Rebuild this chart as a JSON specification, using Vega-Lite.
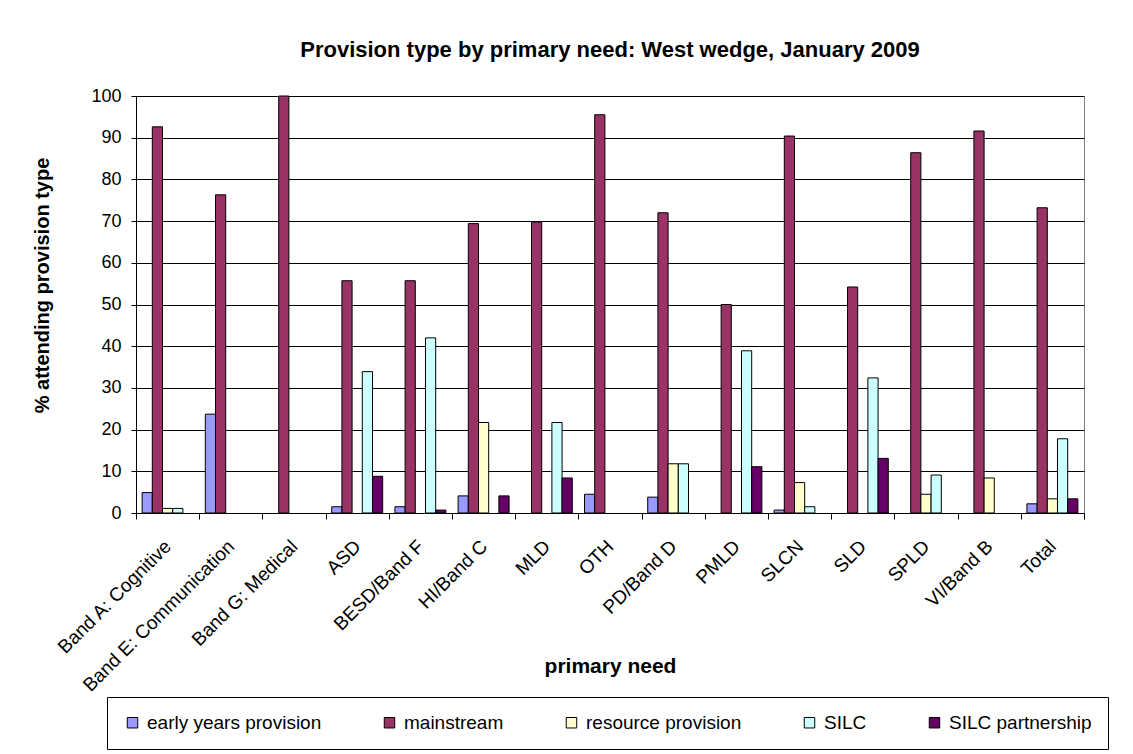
{
  "$schema": "https://vega.github.io/schema/vega-lite/v6.json",
  "width": 948,
  "height": 417,
  "autosize": {"type": "none"},
  "padding": {"left": 136, "top": 96, "right": 49, "bottom": 241},
  "background": "white",
  "title": {
    "text": "Provision type by primary need: West wedge, January 2009",
    "fontSize": 22,
    "fontWeight": "bold",
    "font": "Liberation Sans, Arial, sans-serif",
    "color": "black",
    "anchor": "middle",
    "offset": 25
  },
  "data": {
    "values": [
      {"need": "Band A: Cognitive", "type": "early years provision", "pct": 4.9},
      {"need": "Band A: Cognitive", "type": "mainstream", "pct": 92.6},
      {"need": "Band A: Cognitive", "type": "resource provision", "pct": 1.1},
      {"need": "Band A: Cognitive", "type": "SILC", "pct": 1.1},
      {"need": "Band E: Communication", "type": "early years provision", "pct": 23.7},
      {"need": "Band E: Communication", "type": "mainstream", "pct": 76.3},
      {"need": "Band G: Medical", "type": "mainstream", "pct": 100},
      {"need": "ASD", "type": "early years provision", "pct": 1.5},
      {"need": "ASD", "type": "mainstream", "pct": 55.7},
      {"need": "ASD", "type": "SILC", "pct": 33.9},
      {"need": "ASD", "type": "SILC partnership", "pct": 8.8},
      {"need": "BESD/Band F", "type": "early years provision", "pct": 1.5},
      {"need": "BESD/Band F", "type": "mainstream", "pct": 55.7},
      {"need": "BESD/Band F", "type": "SILC", "pct": 42.0},
      {"need": "BESD/Band F", "type": "SILC partnership", "pct": 0.7},
      {"need": "HI/Band C", "type": "early years provision", "pct": 4.1},
      {"need": "HI/Band C", "type": "mainstream", "pct": 69.4},
      {"need": "HI/Band C", "type": "resource provision", "pct": 21.7},
      {"need": "HI/Band C", "type": "SILC partnership", "pct": 4.1},
      {"need": "MLD", "type": "mainstream", "pct": 69.8},
      {"need": "MLD", "type": "SILC", "pct": 21.7},
      {"need": "MLD", "type": "SILC partnership", "pct": 8.4},
      {"need": "OTH", "type": "early years provision", "pct": 4.5},
      {"need": "OTH", "type": "mainstream", "pct": 95.5},
      {"need": "PD/Band D", "type": "early years provision", "pct": 3.8},
      {"need": "PD/Band D", "type": "mainstream", "pct": 72.0},
      {"need": "PD/Band D", "type": "resource provision", "pct": 11.8},
      {"need": "PD/Band D", "type": "SILC", "pct": 11.8},
      {"need": "PMLD", "type": "mainstream", "pct": 50.0},
      {"need": "PMLD", "type": "SILC", "pct": 38.9},
      {"need": "PMLD", "type": "SILC partnership", "pct": 11.1},
      {"need": "SLCN", "type": "early years provision", "pct": 0.7},
      {"need": "SLCN", "type": "mainstream", "pct": 90.4},
      {"need": "SLCN", "type": "resource provision", "pct": 7.3},
      {"need": "SLCN", "type": "SILC", "pct": 1.5},
      {"need": "SLD", "type": "mainstream", "pct": 54.2},
      {"need": "SLD", "type": "SILC", "pct": 32.4},
      {"need": "SLD", "type": "SILC partnership", "pct": 13.1},
      {"need": "SPLD", "type": "mainstream", "pct": 86.4},
      {"need": "SPLD", "type": "resource provision", "pct": 4.5},
      {"need": "SPLD", "type": "SILC", "pct": 9.1},
      {"need": "VI/Band B", "type": "mainstream", "pct": 91.6},
      {"need": "VI/Band B", "type": "resource provision", "pct": 8.4},
      {"need": "Total", "type": "early years provision", "pct": 2.2},
      {"need": "Total", "type": "mainstream", "pct": 73.2},
      {"need": "Total", "type": "resource provision", "pct": 3.4},
      {"need": "Total", "type": "SILC", "pct": 17.8},
      {"need": "Total", "type": "SILC partnership", "pct": 3.4}
    ]
  },
  "mark": {"type": "bar", "stroke": "black", "strokeWidth": 1},
  "encoding": {
    "x": {
      "field": "need",
      "type": "nominal",
      "sort": ["Band A: Cognitive", "Band E: Communication", "Band G: Medical", "ASD", "BESD/Band F", "HI/Band C", "MLD", "OTH", "PD/Band D", "PMLD", "SLCN", "SLD", "SPLD", "VI/Band B", "Total"],
      "scale": {"paddingInner": 0, "paddingOuter": 0},
      "axis": {
        "title": "primary need",
        "titleFontSize": 21,
        "titleFontWeight": "bold",
        "titleX": 474,
        "titleY": 159,
        "titleBaseline": "alphabetic",
        "labelAngle": -45,
        "labelBaseline": "middle",
        "labelFontSize": 19,
        "labelPadding": 24,
        "labelLimit": 300,
        "tickBand": "extent",
        "tickSize": 6,
        "grid": false
      }
    },
    "xOffset": {
      "field": "type",
      "type": "nominal",
      "scale": {
        "domain": ["early years provision", "mainstream", "resource provision", "SILC", "SILC partnership"],
        "paddingInner": 0,
        "paddingOuter": 0.6
      }
    },
    "y": {
      "field": "pct",
      "type": "quantitative",
      "scale": {"domain": [0, 100], "nice": false},
      "axis": {
        "title": "% attending provision type",
        "titleFontSize": 20,
        "titleFontWeight": "bold",
        "titleX": -84,
        "titleY": 189,
        "values": [0, 10, 20, 30, 40, 50, 60, 70, 80, 90, 100],
        "labelFontSize": 18,
        "labelPadding": 10,
        "tickSize": 5
      }
    },
    "color": {
      "field": "type",
      "type": "nominal",
      "scale": {
        "domain": ["early years provision", "mainstream", "resource provision", "SILC", "SILC partnership"],
        "range": ["#9999FF", "#993366", "#FFFFCC", "#CCFFFF", "#660066"]
      },
      "legend": {
        "title": null,
        "orient": "none",
        "direction": "horizontal",
        "legendX": -29,
        "legendY": 601,
        "columns": 5,
        "columnPadding": 58,
        "padding": 16,
        "strokeColor": "black",
        "fillColor": "white",
        "symbolType": "square",
        "symbolSize": 110,
        "symbolStrokeColor": "black",
        "symbolStrokeWidth": 1,
        "symbolOpacity": 1,
        "labelFontSize": 19,
        "labelOffset": 5,
        "labelLimit": 300
      }
    }
  },
  "config": {
    "font": "Liberation Sans, Arial, sans-serif",
    "view": {"stroke": "#808080", "strokeWidth": 1},
    "bar": {"opacity": 1},
    "axis": {
      "domainColor": "black",
      "domainWidth": 1,
      "tickColor": "black",
      "tickWidth": 1,
      "gridColor": "black",
      "gridWidth": 1,
      "gridOpacity": 1,
      "labelColor": "black",
      "titleColor": "black",
      "labelFont": "Liberation Sans, Arial, sans-serif",
      "titleFont": "Liberation Sans, Arial, sans-serif"
    },
    "legend": {
      "labelColor": "black",
      "labelFont": "Liberation Sans, Arial, sans-serif"
    }
  }
}
